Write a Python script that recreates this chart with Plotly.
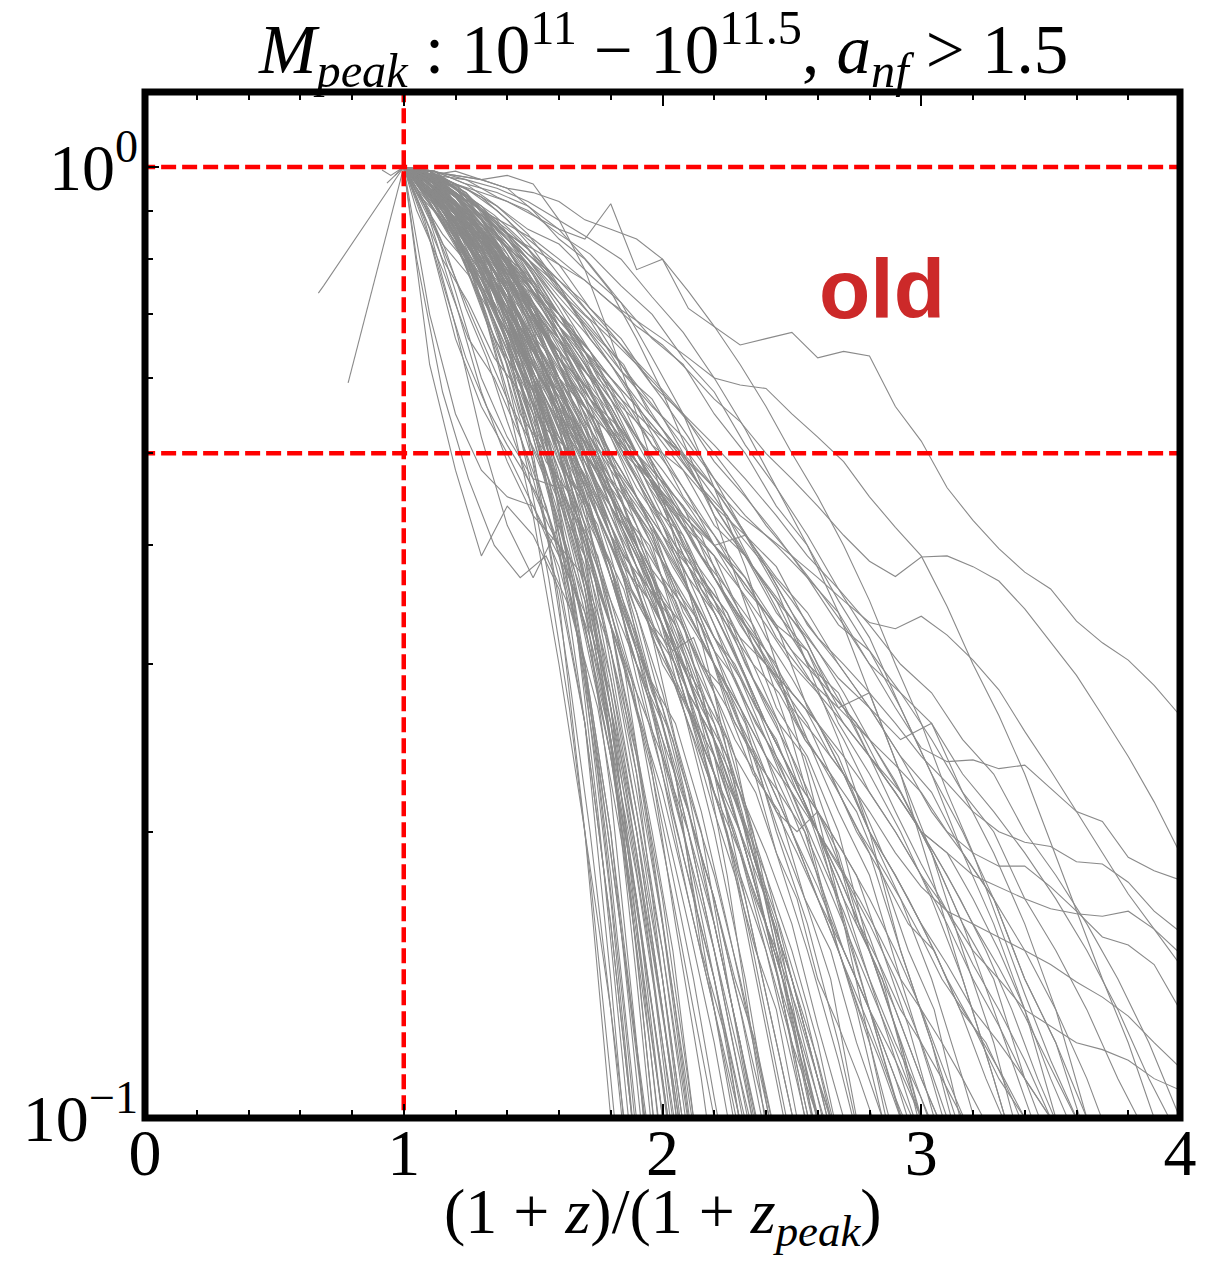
import math
import plotly.graph_objects as go

# ---------------- data ----------------
# snapshot grids of (1+z)/(1+z_peak) used by the different halo tracks
X_GRID = [1.0, 1.1, 1.2, 1.3, 1.4, 1.5, 1.6, 1.7, 1.8, 1.9, 2.0, 2.1, 2.2, 2.3, 2.4, 2.5,
          2.6, 2.7, 2.8, 2.9, 3.0, 3.1, 3.2, 3.3, 3.4, 3.5, 3.6, 3.7, 3.8, 3.9, 4.0]
X_GRID_B = [1.0, 1.05, 1.15, 1.25, 1.35, 1.45, 1.55, 1.65, 1.75, 1.85, 1.95, 2.05, 2.15,
            2.25, 2.35, 2.45, 2.55, 2.65, 2.75, 2.85, 2.95, 3.05, 3.15, 3.25, 3.35, 3.45,
            3.55, 3.65, 3.75, 3.85, 3.95, 4.05]
X_GRID_C = [1.0, 1.08, 1.16, 1.24, 1.32, 1.4, 1.48, 1.56, 1.64, 1.72, 1.8, 1.88, 1.96,
            2.04, 2.12, 2.2, 2.28, 2.36, 2.44, 2.52, 2.6, 2.68, 2.76, 2.84, 2.92, 3.0,
            3.08, 3.16, 3.24, 3.32, 3.4, 3.48, 3.56, 3.64, 3.72, 3.8, 3.88, 3.96, 4.04]
X_GRID_D = [1.0, 1.12, 1.24, 1.36, 1.48, 1.6, 1.72, 1.84, 1.96, 2.08, 2.2, 2.32, 2.44,
            2.56, 2.68, 2.8, 2.92, 3.04, 3.16, 3.28, 3.4, 3.52, 3.64, 3.76, 3.88, 4.0]

# M/M_peak of each halo track, sampled on X_GRID
TRACKS_EARLY = [
    [1, 0.62, 0.48, 0.39, 0.44, 0.41, 0.36, 0.26, 0.16, 0.09],
    [1, 0.7, 0.55, 0.48, 0.45, 0.44, 0.38, 0.3, 0.2, 0.12, 0.07],
    [1, 0.86, 0.68, 0.52, 0.42, 0.37, 0.42, 0.35, 0.26, 0.17, 0.1, 0.06],
    [1, 0.9, 0.74, 0.6, 0.52, 0.47, 0.46, 0.41, 0.33, 0.23, 0.14, 0.085],
    [1, 0.84, 0.66, 0.56, 0.5, 0.44, 0.39, 0.34, 0.28, 0.2, 0.13, 0.08],
    [1, 0.88, 0.72, 0.58, 0.49, 0.43, 0.4, 0.37, 0.31, 0.24, 0.17, 0.11, 0.07],
]
TRACKS_STEEP = [
    [1, 0.95, 0.88, 0.78, 0.65, 0.5, 0.35, 0.2, 0.1, 0.05],
    [1, 0.97, 0.9, 0.81, 0.69, 0.55, 0.4, 0.26, 0.14, 0.07],
    [1, 0.93, 0.85, 0.74, 0.63, 0.52, 0.41, 0.29, 0.17, 0.09],
    [1, 0.98, 0.93, 0.86, 0.75, 0.6, 0.44, 0.3, 0.18, 0.1, 0.055],
    [1, 0.96, 0.87, 0.79, 0.65, 0.58, 0.45, 0.35, 0.22, 0.12, 0.06],
    [1, 0.94, 0.84, 0.71, 0.6, 0.49, 0.39, 0.3, 0.2, 0.11, 0.06],
    [1, 0.99, 0.95, 0.88, 0.8, 0.68, 0.54, 0.39, 0.25, 0.14, 0.075],
    [1, 0.92, 0.83, 0.72, 0.58, 0.47, 0.37, 0.26, 0.16, 0.09],
    [1, 0.97, 0.92, 0.82, 0.74, 0.59, 0.51, 0.37, 0.27, 0.16, 0.09],
    [1, 0.95, 0.9, 0.8, 0.7, 0.57, 0.46, 0.36, 0.25, 0.15, 0.08],
]
TRACKS_FAST = [
    [1, 0.96, 0.86, 0.72, 0.57, 0.43, 0.3, 0.2, 0.13, 0.078],
    [1, 0.97, 0.9, 0.8, 0.68, 0.56, 0.44, 0.34, 0.25, 0.18, 0.12, 0.08],
    [1, 0.94, 0.87, 0.76, 0.66, 0.53, 0.43, 0.32, 0.24, 0.16, 0.1, 0.065],
    [1, 0.98, 0.92, 0.83, 0.7, 0.6, 0.47, 0.37, 0.26, 0.17, 0.11, 0.07],
    [1, 0.95, 0.88, 0.78, 0.69, 0.58, 0.5, 0.4, 0.29, 0.2, 0.13, 0.08],
    [1, 0.99, 0.94, 0.86, 0.76, 0.63, 0.5, 0.39, 0.28, 0.19, 0.12, 0.075],
    [1, 0.93, 0.83, 0.74, 0.62, 0.52, 0.42, 0.33, 0.24, 0.17, 0.11, 0.07],
    [1, 0.96, 0.91, 0.82, 0.73, 0.61, 0.51, 0.41, 0.31, 0.22, 0.15, 0.095, 0.06],
    [1, 0.97, 0.9, 0.79, 0.7, 0.6, 0.46, 0.38, 0.27, 0.19, 0.13, 0.085],
    [1, 0.95, 0.85, 0.75, 0.63, 0.55, 0.45, 0.36, 0.27, 0.2, 0.14, 0.09],
    [1, 0.98, 0.95, 0.88, 0.79, 0.66, 0.53, 0.42, 0.3, 0.21, 0.14, 0.09],
    [1, 0.94, 0.89, 0.8, 0.67, 0.57, 0.48, 0.37, 0.29, 0.21, 0.15, 0.1, 0.065],
    [1, 0.96, 0.88, 0.77, 0.65, 0.54, 0.46, 0.39, 0.31, 0.23, 0.16, 0.105, 0.07],
    [1, 0.99, 0.93, 0.85, 0.74, 0.64, 0.55, 0.44, 0.33, 0.24, 0.16, 0.1, 0.065],
]
TRACKS_CORE = [
    [1, 0.96, 0.88, 0.79, 0.69, 0.59, 0.5, 0.42, 0.34, 0.27, 0.22, 0.17, 0.13, 0.1, 0.076],
    [1, 0.94, 0.86, 0.75, 0.66, 0.56, 0.48, 0.41, 0.35, 0.28, 0.21, 0.16, 0.12, 0.085],
    [1, 0.98, 0.92, 0.84, 0.74, 0.62, 0.55, 0.43, 0.38, 0.29, 0.23, 0.18, 0.14, 0.105, 0.08],
    [1, 0.95, 0.9, 0.81, 0.71, 0.6, 0.49, 0.44, 0.37, 0.3, 0.25, 0.19, 0.14, 0.1, 0.07],
    [1, 0.97, 0.89, 0.8, 0.72, 0.62, 0.54, 0.45, 0.37, 0.31, 0.24, 0.19, 0.15, 0.11, 0.085],
    [1, 0.93, 0.84, 0.74, 0.64, 0.55, 0.47, 0.4, 0.33, 0.28, 0.24, 0.2, 0.15, 0.115, 0.085],
    [1, 0.98, 0.94, 0.86, 0.77, 0.67, 0.56, 0.46, 0.37, 0.3, 0.23, 0.17, 0.13, 0.095, 0.07],
    [1, 0.96, 0.9, 0.83, 0.7, 0.61, 0.53, 0.44, 0.38, 0.32, 0.26, 0.2, 0.16, 0.12, 0.09],
    [1, 0.95, 0.87, 0.78, 0.7, 0.6, 0.51, 0.43, 0.35, 0.3, 0.26, 0.21, 0.16, 0.12, 0.088, 0.065],
    [1, 0.97, 0.91, 0.82, 0.73, 0.65, 0.55, 0.47, 0.39, 0.31, 0.25, 0.21, 0.17, 0.13, 0.095, 0.07],
    [1, 0.99, 0.95, 0.9, 0.81, 0.7, 0.6, 0.5, 0.41, 0.33, 0.26, 0.2, 0.15, 0.11, 0.08],
    [1, 0.94, 0.88, 0.8, 0.7, 0.61, 0.52, 0.46, 0.4, 0.34, 0.27, 0.21, 0.17, 0.13, 0.1, 0.075],
    [1, 0.96, 0.89, 0.81, 0.68, 0.58, 0.51, 0.45, 0.38, 0.31, 0.27, 0.22, 0.18, 0.14, 0.105, 0.08],
    [1, 0.97, 0.92, 0.85, 0.76, 0.66, 0.57, 0.48, 0.41, 0.34, 0.28, 0.22, 0.16, 0.12, 0.085],
]
TRACKS_MID = [
    [1, 0.96, 0.89, 0.82, 0.73, 0.65, 0.57, 0.5, 0.43, 0.37, 0.31, 0.26, 0.22, 0.18, 0.15, 0.12, 0.1, 0.081],
    [1, 0.95, 0.87, 0.78, 0.69, 0.6, 0.52, 0.47, 0.41, 0.36, 0.3, 0.27, 0.23, 0.19, 0.15, 0.115, 0.088],
    [1, 0.98, 0.93, 0.86, 0.77, 0.68, 0.6, 0.53, 0.45, 0.38, 0.33, 0.27, 0.22, 0.19, 0.16, 0.13, 0.105, 0.085],
    [1, 0.97, 0.9, 0.84, 0.75, 0.63, 0.55, 0.49, 0.44, 0.39, 0.33, 0.29, 0.24, 0.2, 0.16, 0.13, 0.1, 0.078],
    [1, 0.94, 0.86, 0.79, 0.7, 0.62, 0.55, 0.46, 0.4, 0.35, 0.31, 0.27, 0.23, 0.2, 0.17, 0.14, 0.11, 0.09, 0.07],
    [1, 0.99, 0.95, 0.88, 0.8, 0.71, 0.62, 0.55, 0.47, 0.41, 0.35, 0.29, 0.24, 0.2, 0.16, 0.12, 0.09],
    [1, 0.96, 0.91, 0.83, 0.76, 0.67, 0.58, 0.49, 0.42, 0.37, 0.33, 0.28, 0.25, 0.21, 0.17, 0.14, 0.115, 0.09],
    [1, 0.97, 0.92, 0.85, 0.78, 0.7, 0.63, 0.56, 0.48, 0.4, 0.34, 0.28, 0.23, 0.19, 0.155, 0.125, 0.1, 0.08],
    [1, 0.95, 0.9, 0.8, 0.72, 0.64, 0.58, 0.52, 0.45, 0.38, 0.32, 0.28, 0.25, 0.22, 0.18, 0.14, 0.11, 0.085],
    [1, 0.98, 0.94, 0.87, 0.79, 0.69, 0.59, 0.51, 0.44, 0.39, 0.34, 0.29, 0.26, 0.22, 0.19, 0.16, 0.125, 0.1, 0.075],
    [1, 0.96, 0.88, 0.81, 0.74, 0.66, 0.6, 0.53, 0.46, 0.4, 0.35, 0.31, 0.26, 0.21, 0.17, 0.14, 0.11, 0.085],
    [1, 0.97, 0.93, 0.87, 0.8, 0.72, 0.62, 0.52, 0.44, 0.38, 0.33, 0.27, 0.24, 0.21, 0.18, 0.15, 0.12, 0.09],
    [1, 0.93, 0.85, 0.76, 0.68, 0.6, 0.54, 0.49, 0.43, 0.38, 0.34, 0.3, 0.25, 0.21, 0.17, 0.135, 0.105, 0.08],
    [1, 0.99, 0.96, 0.9, 0.82, 0.74, 0.66, 0.57, 0.49, 0.42, 0.35, 0.3, 0.25, 0.2, 0.16, 0.13, 0.1, 0.078],
]
TRACKS_BROAD = [
    [1, 0.97, 0.91, 0.85, 0.79, 0.72, 0.65, 0.59, 0.53, 0.47, 0.42, 0.37, 0.32, 0.28, 0.25, 0.215, 0.186, 0.16, 0.137, 0.118, 0.1, 0.085],
    [1, 0.96, 0.9, 0.82, 0.74, 0.66, 0.59, 0.53, 0.48, 0.44, 0.4, 0.36, 0.31, 0.27, 0.24, 0.21, 0.18, 0.15, 0.13, 0.11, 0.09],
    [1, 0.98, 0.94, 0.88, 0.82, 0.75, 0.67, 0.6, 0.52, 0.45, 0.39, 0.34, 0.3, 0.27, 0.24, 0.22, 0.19, 0.165, 0.14, 0.12, 0.105, 0.09],
    [1, 0.95, 0.88, 0.8, 0.71, 0.63, 0.56, 0.5, 0.45, 0.41, 0.37, 0.34, 0.3, 0.27, 0.23, 0.2, 0.17, 0.145, 0.125, 0.105, 0.09],
    [1, 0.99, 0.95, 0.9, 0.83, 0.76, 0.7, 0.63, 0.55, 0.48, 0.42, 0.36, 0.31, 0.26, 0.23, 0.2, 0.175, 0.15, 0.13, 0.11, 0.095],
    [1, 0.97, 0.92, 0.86, 0.8, 0.73, 0.67, 0.61, 0.56, 0.5, 0.44, 0.38, 0.33, 0.29, 0.25, 0.22, 0.2, 0.18, 0.155, 0.13, 0.11, 0.095, 0.08],
    [1, 0.96, 0.89, 0.81, 0.75, 0.68, 0.6, 0.54, 0.49, 0.45, 0.41, 0.37, 0.34, 0.3, 0.26, 0.23, 0.2, 0.17, 0.15, 0.13, 0.11, 0.095, 0.08],
    [1, 0.98, 0.93, 0.87, 0.81, 0.74, 0.68, 0.62, 0.55, 0.49, 0.43, 0.39, 0.35, 0.31, 0.27, 0.24, 0.21, 0.18, 0.16, 0.14, 0.12, 0.1, 0.085],
    [1, 0.95, 0.9, 0.84, 0.78, 0.71, 0.63, 0.57, 0.52, 0.46, 0.42, 0.38, 0.33, 0.28, 0.24, 0.2, 0.17, 0.15, 0.13, 0.115, 0.1, 0.085],
    [1, 0.97, 0.93, 0.89, 0.84, 0.78, 0.71, 0.64, 0.57, 0.5, 0.44, 0.38, 0.34, 0.3, 0.26, 0.23, 0.2, 0.175, 0.15, 0.125, 0.105, 0.088],
    [1, 0.96, 0.91, 0.86, 0.78, 0.7, 0.62, 0.57, 0.53, 0.49, 0.45, 0.4, 0.35, 0.3, 0.26, 0.23, 0.21, 0.19, 0.17, 0.15, 0.13, 0.11, 0.095, 0.08],
    [1, 0.98, 0.95, 0.91, 0.85, 0.77, 0.68, 0.6, 0.53, 0.47, 0.41, 0.36, 0.32, 0.29, 0.26, 0.23, 0.2, 0.17, 0.14, 0.115, 0.095, 0.078],
]
TRACKS_SLOW = [
    [1, 0.975, 0.94, 0.89, 0.845, 0.79, 0.74, 0.69, 0.64, 0.59, 0.545, 0.5, 0.46, 0.42, 0.38, 0.34, 0.31, 0.28, 0.25, 0.226, 0.2, 0.18, 0.16, 0.144, 0.128, 0.113, 0.1, 0.088],
    [1, 0.98, 0.95, 0.9, 0.85, 0.8, 0.75, 0.7, 0.66, 0.62, 0.58, 0.54, 0.5, 0.46, 0.42, 0.39, 0.36, 0.33, 0.3, 0.27, 0.245, 0.237, 0.238, 0.233, 0.235, 0.222, 0.21, 0.205, 0.188, 0.182, 0.178],
    [1, 0.98, 0.95, 0.9, 0.84, 0.77, 0.7, 0.64, 0.58, 0.52, 0.47, 0.43, 0.4, 0.37, 0.34, 0.31, 0.28, 0.25, 0.22, 0.2, 0.18, 0.16, 0.14, 0.125, 0.11, 0.1, 0.09],
    [1, 0.96, 0.91, 0.85, 0.8, 0.74, 0.69, 0.64, 0.6, 0.56, 0.52, 0.48, 0.44, 0.4, 0.36, 0.32, 0.29, 0.26, 0.24, 0.22, 0.2, 0.19, 0.17, 0.15, 0.13, 0.11, 0.095, 0.08],
    [1, 0.97, 0.92, 0.86, 0.79, 0.71, 0.63, 0.56, 0.5, 0.45, 0.41, 0.38, 0.35, 0.32, 0.3, 0.28, 0.26, 0.23, 0.2, 0.18, 0.16, 0.145, 0.13, 0.12, 0.11, 0.1, 0.09],
    [1, 0.99, 0.96, 0.93, 0.88, 0.82, 0.75, 0.68, 0.62, 0.56, 0.5, 0.45, 0.4, 0.36, 0.32, 0.29, 0.26, 0.23, 0.2, 0.18, 0.16, 0.14, 0.125, 0.11, 0.1, 0.088],
    [1, 0.97, 0.94, 0.9, 0.86, 0.81, 0.76, 0.72, 0.67, 0.62, 0.57, 0.52, 0.47, 0.42, 0.38, 0.34, 0.3, 0.27, 0.24, 0.21, 0.185, 0.165, 0.145, 0.13, 0.115, 0.1, 0.088],
    [1, 0.99, 0.98, 0.97, 0.98, 0.96, 0.88, 0.78, 0.66, 0.55, 0.45, 0.36, 0.28, 0.21, 0.16, 0.12, 0.09],
    [1, 0.98, 0.99, 0.97, 0.95, 0.9, 0.84, 0.8, 0.74, 0.66, 0.58, 0.5, 0.43, 0.36, 0.3, 0.25, 0.2, 0.16, 0.13, 0.105, 0.085],
    [1, 0.99, 0.98, 0.97, 0.95, 0.94, 0.92, 0.88, 0.86, 0.84, 0.8, 0.74, 0.68, 0.62, 0.56, 0.5, 0.45, 0.4, 0.35, 0.3, 0.26, 0.22, 0.19, 0.16, 0.135, 0.115, 0.1, 0.085],
]
TRACKS_OLDEST = [
    [1, 0.98, 0.96, 0.94, 0.92, 0.89, 0.86, 0.84, 0.915, 0.78, 0.8, 0.71, 0.68, 0.65, 0.66, 0.67, 0.63, 0.64, 0.633, 0.56, 0.515, 0.46, 0.425, 0.397, 0.375, 0.36, 0.333, 0.316, 0.303, 0.285, 0.265],
    [1, 0.98, 0.94, 0.9, 0.87, 0.84, 0.8, 0.76, 0.72, 0.68, 0.65, 0.61, 0.57, 0.54, 0.5, 0.47, 0.44, 0.41, 0.385, 0.371, 0.389, 0.39, 0.38, 0.367, 0.343, 0.316, 0.292, 0.265, 0.24, 0.215, 0.19],
    [1, 0.97, 0.93, 0.89, 0.85, 0.82, 0.79, 0.76, 0.72, 0.69, 0.66, 0.63, 0.6, 0.59, 0.585, 0.55, 0.52, 0.49, 0.45, 0.418, 0.39, 0.345, 0.3, 0.265, 0.23, 0.195, 0.165, 0.14, 0.12, 0.1, 0.088],
    [1, 0.96, 0.91, 0.86, 0.8, 0.75, 0.7, 0.65, 0.6, 0.56, 0.52, 0.49, 0.46, 0.43, 0.41, 0.39, 0.37, 0.35, 0.332, 0.327, 0.337, 0.322, 0.303, 0.282, 0.255, 0.232, 0.21, 0.19, 0.172, 0.158, 0.145],
    [1, 0.97, 0.93, 0.88, 0.83, 0.78, 0.72, 0.67, 0.62, 0.57, 0.53, 0.49, 0.45, 0.41, 0.38, 0.35, 0.32, 0.3, 0.28, 0.26, 0.24, 0.225, 0.21, 0.2, 0.195, 0.193, 0.186, 0.185, 0.177, 0.165, 0.157],
    [1, 0.96, 0.9, 0.84, 0.77, 0.7, 0.64, 0.58, 0.53, 0.49, 0.45, 0.42, 0.39, 0.36, 0.33, 0.3, 0.28, 0.26, 0.24, 0.22, 0.2, 0.19, 0.18, 0.175, 0.17, 0.166, 0.164, 0.163, 0.165, 0.158, 0.149],
    [1, 0.98, 0.94, 0.89, 0.82, 0.75, 0.68, 0.62, 0.56, 0.5, 0.45, 0.41, 0.37, 0.33, 0.3, 0.27, 0.25, 0.23, 0.21, 0.19, 0.175, 0.165, 0.16, 0.155, 0.15, 0.145, 0.139, 0.134, 0.128, 0.12, 0.113],
    [1, 0.97, 0.91, 0.85, 0.78, 0.72, 0.66, 0.6, 0.55, 0.5, 0.46, 0.42, 0.38, 0.34, 0.31, 0.28, 0.26, 0.24, 0.22, 0.2, 0.18, 0.165, 0.15, 0.14, 0.13, 0.125, 0.12, 0.118, 0.115, 0.11, 0.107],
    [1, 0.96, 0.92, 0.86, 0.8, 0.74, 0.68, 0.62, 0.57, 0.52, 0.48, 0.44, 0.4, 0.37, 0.34, 0.31, 0.29, 0.27, 0.25, 0.235, 0.22, 0.2, 0.19, 0.184, 0.184, 0.175, 0.165, 0.155, 0.152, 0.145, 0.13],
]
# tracks sampled on X_GRID_B
TRACKS_B = [
    [1, 0.97, 0.9, 0.84, 0.71, 0.63, 0.5, 0.43, 0.3, 0.2, 0.11, 0.06],
    [1, 0.95, 0.83, 0.77, 0.69, 0.55, 0.5, 0.41, 0.33, 0.22, 0.15, 0.09],
    [1, 0.99, 0.93, 0.82, 0.76, 0.64, 0.56, 0.44, 0.39, 0.3, 0.24, 0.16, 0.11, 0.07],
    [1, 0.96, 0.87, 0.8, 0.7, 0.61, 0.56, 0.47, 0.42, 0.34, 0.29, 0.23, 0.15, 0.12, 0.08],
    [1, 0.98, 0.94, 0.85, 0.8, 0.69, 0.6, 0.54, 0.43, 0.37, 0.33, 0.25, 0.2, 0.14, 0.1, 0.07],
    [1, 0.94, 0.85, 0.79, 0.66, 0.6, 0.53, 0.5, 0.41, 0.36, 0.29, 0.26, 0.21, 0.16, 0.12, 0.09],
    [1, 0.97, 0.92, 0.88, 0.79, 0.72, 0.62, 0.52, 0.48, 0.4, 0.33, 0.3, 0.24, 0.2, 0.15, 0.11, 0.08],
    [1, 0.99, 0.96, 0.9, 0.84, 0.74, 0.68, 0.57, 0.5, 0.42, 0.37, 0.31, 0.28, 0.22, 0.18, 0.14, 0.1, 0.075],
    [1, 0.96, 0.9, 0.83, 0.76, 0.7, 0.6, 0.55, 0.46, 0.42, 0.38, 0.31, 0.27, 0.24, 0.19, 0.16, 0.13, 0.1, 0.075],
    [1, 0.98, 0.93, 0.86, 0.81, 0.72, 0.66, 0.58, 0.54, 0.45, 0.41, 0.36, 0.33, 0.27, 0.24, 0.2, 0.17, 0.14, 0.1, 0.08],
    [1, 0.95, 0.88, 0.8, 0.74, 0.67, 0.61, 0.53, 0.5, 0.44, 0.38, 0.35, 0.3, 0.27, 0.23, 0.21, 0.17, 0.15, 0.12, 0.1, 0.08],
    [1, 0.99, 0.95, 0.88, 0.83, 0.76, 0.71, 0.63, 0.59, 0.52, 0.46, 0.42, 0.37, 0.34, 0.29, 0.26, 0.22, 0.2, 0.16, 0.14, 0.11, 0.085],
    [1, 0.97, 0.91, 0.84, 0.8, 0.73, 0.66, 0.62, 0.55, 0.5, 0.47, 0.42, 0.36, 0.33, 0.3, 0.26, 0.24, 0.2, 0.18, 0.15, 0.125, 0.1, 0.08],
    [1, 0.98, 0.96, 0.92, 0.85, 0.8, 0.72, 0.68, 0.6, 0.56, 0.49, 0.44, 0.41, 0.35, 0.32, 0.29, 0.25, 0.23, 0.2, 0.18, 0.15, 0.13, 0.1, 0.085],
    [1, 0.96, 0.91, 0.86, 0.79, 0.75, 0.68, 0.61, 0.57, 0.51, 0.47, 0.44, 0.39, 0.36, 0.33, 0.29, 0.27, 0.24, 0.22, 0.19, 0.17, 0.15, 0.13, 0.11, 0.095, 0.08],
    [1, 0.99, 0.97, 0.93, 0.89, 0.84, 0.78, 0.71, 0.66, 0.62, 0.55, 0.51, 0.46, 0.43, 0.38, 0.35, 0.32, 0.28, 0.26, 0.23, 0.21, 0.19, 0.17, 0.15, 0.13, 0.11, 0.095, 0.08],
    [1, 0.9, 0.78, 0.66, 0.6, 0.52, 0.44, 0.35, 0.23, 0.13, 0.07],
    [1, 0.93, 0.8, 0.72, 0.63, 0.58, 0.49, 0.45, 0.36, 0.3, 0.2, 0.13, 0.08],
    [1, 0.98, 0.9, 0.81, 0.74, 0.65, 0.57, 0.49, 0.44, 0.38, 0.35, 0.31, 0.25, 0.18, 0.12, 0.08],
    [1, 0.94, 0.88, 0.78, 0.72, 0.63, 0.57, 0.5, 0.45, 0.39, 0.36, 0.33, 0.28, 0.25, 0.2, 0.15, 0.11, 0.08],
    [1, 0.97, 0.91, 0.84, 0.76, 0.69, 0.64, 0.55, 0.49, 0.43, 0.4, 0.34, 0.3, 0.28, 0.24, 0.22, 0.2, 0.16, 0.13, 0.1, 0.08],
    [1, 0.98, 0.94, 0.89, 0.82, 0.74, 0.68, 0.63, 0.56, 0.5, 0.45, 0.4, 0.37, 0.34, 0.3, 0.28, 0.25, 0.23, 0.21, 0.18, 0.16, 0.15, 0.13, 0.12, 0.105, 0.09],
    [1, 0.98, 0.95, 0.87, 0.78, 0.66, 0.52, 0.36, 0.21, 0.11, 0.06],
    [1, 0.96, 0.89, 0.8, 0.69, 0.6, 0.47, 0.36, 0.24, 0.15, 0.09],
    [1, 0.8, 0.58, 0.47, 0.4, 0.37, 0.39, 0.34, 0.27, 0.19, 0.12, 0.07],
]
# tracks sampled on X_GRID_C
TRACKS_C = [
    [1, 0.96, 0.9, 0.81, 0.7, 0.6, 0.48, 0.37, 0.27, 0.18, 0.11, 0.065],
    [1, 0.98, 0.91, 0.85, 0.74, 0.66, 0.55, 0.47, 0.36, 0.27, 0.19, 0.13, 0.09],
    [1, 0.94, 0.86, 0.79, 0.69, 0.62, 0.52, 0.46, 0.39, 0.31, 0.25, 0.18, 0.13, 0.09],
    [1, 0.99, 0.94, 0.86, 0.8, 0.7, 0.63, 0.53, 0.47, 0.39, 0.33, 0.26, 0.2, 0.15, 0.1, 0.07],
    [1, 0.95, 0.88, 0.82, 0.73, 0.67, 0.58, 0.52, 0.46, 0.41, 0.34, 0.29, 0.22, 0.17, 0.13, 0.1, 0.075],
    [1, 0.97, 0.93, 0.85, 0.78, 0.69, 0.62, 0.54, 0.5, 0.43, 0.38, 0.31, 0.27, 0.21, 0.17, 0.14, 0.11, 0.085],
    [1, 0.96, 0.89, 0.8, 0.75, 0.66, 0.6, 0.53, 0.47, 0.44, 0.37, 0.33, 0.28, 0.25, 0.2, 0.17, 0.14, 0.12, 0.095, 0.075],
    [1, 0.98, 0.95, 0.88, 0.82, 0.74, 0.67, 0.6, 0.52, 0.47, 0.41, 0.38, 0.32, 0.29, 0.25, 0.21, 0.18, 0.15, 0.13, 0.1, 0.08],
    [1, 0.95, 0.9, 0.84, 0.76, 0.69, 0.63, 0.58, 0.51, 0.46, 0.42, 0.36, 0.33, 0.29, 0.26, 0.23, 0.2, 0.17, 0.15, 0.13, 0.11, 0.095, 0.08],
    [1, 0.97, 0.92, 0.87, 0.8, 0.74, 0.67, 0.62, 0.55, 0.5, 0.45, 0.41, 0.37, 0.34, 0.3, 0.27, 0.24, 0.22, 0.19, 0.17, 0.14, 0.125, 0.11, 0.095, 0.08],
    [1, 0.99, 0.96, 0.91, 0.85, 0.79, 0.71, 0.66, 0.6, 0.53, 0.49, 0.44, 0.41, 0.36, 0.33, 0.3, 0.26, 0.24, 0.21, 0.19, 0.17, 0.15, 0.13, 0.115, 0.1, 0.09, 0.078],
    [1, 0.97, 0.93, 0.88, 0.83, 0.76, 0.7, 0.64, 0.59, 0.55, 0.5, 0.46, 0.42, 0.38, 0.35, 0.32, 0.3, 0.27, 0.25, 0.22, 0.2, 0.18, 0.16, 0.145, 0.13, 0.12, 0.11, 0.1, 0.09],
    [1, 0.96, 0.9, 0.85, 0.78, 0.73, 0.67, 0.6, 0.56, 0.51, 0.47, 0.44, 0.4, 0.37, 0.34, 0.31, 0.29, 0.26, 0.24, 0.22, 0.2, 0.185, 0.17, 0.155, 0.14, 0.13, 0.12, 0.11, 0.1, 0.092, 0.085],
    [1, 0.98, 0.95, 0.91, 0.86, 0.8, 0.75, 0.69, 0.65, 0.6, 0.56, 0.51, 0.47, 0.44, 0.4, 0.37, 0.34, 0.31, 0.29, 0.26, 0.24, 0.22, 0.2, 0.185, 0.17, 0.155, 0.14, 0.13, 0.12, 0.11, 0.1, 0.095, 0.085],
    [1, 0.88, 0.74, 0.63, 0.56, 0.51, 0.47, 0.43, 0.37, 0.32, 0.26, 0.2, 0.15, 0.11, 0.08],
    [1, 0.92, 0.82, 0.71, 0.63, 0.54, 0.47, 0.42, 0.38, 0.31, 0.24, 0.17, 0.12, 0.085],
    [1, 0.99, 0.97, 0.93, 0.87, 0.8, 0.72, 0.63, 0.55, 0.48, 0.42, 0.37, 0.33, 0.31, 0.32, 0.28, 0.24, 0.19, 0.15, 0.12, 0.095, 0.075],
    [1, 0.95, 0.9, 0.83, 0.77, 0.71, 0.64, 0.58, 0.53, 0.49, 0.46, 0.43, 0.39, 0.35, 0.31, 0.28, 0.25, 0.23, 0.21, 0.2, 0.21, 0.19, 0.16, 0.14, 0.12, 0.1, 0.085],
    [1, 0.97, 0.93, 0.85, 0.76, 0.65, 0.52, 0.4, 0.29, 0.2, 0.13, 0.08],
    [1, 0.91, 0.81, 0.72, 0.64, 0.57, 0.52, 0.47, 0.42, 0.38, 0.33, 0.28, 0.23, 0.18, 0.14, 0.105, 0.08],
]
# tracks sampled on X_GRID_D
TRACKS_D = [
    [1, 0.93, 0.86, 0.74, 0.66, 0.57, 0.5, 0.45, 0.36, 0.33, 0.25, 0.2, 0.16, 0.11, 0.08],
    [1, 0.97, 0.88, 0.81, 0.7, 0.64, 0.52, 0.47, 0.42, 0.34, 0.3, 0.25, 0.19, 0.15, 0.115, 0.085],
    [1, 0.95, 0.9, 0.79, 0.74, 0.63, 0.58, 0.5, 0.44, 0.41, 0.34, 0.29, 0.24, 0.2, 0.15, 0.12, 0.09],
    [1, 0.98, 0.91, 0.85, 0.76, 0.7, 0.61, 0.55, 0.48, 0.44, 0.37, 0.33, 0.27, 0.24, 0.2, 0.15, 0.12, 0.09],
    [1, 0.94, 0.87, 0.8, 0.71, 0.66, 0.57, 0.53, 0.47, 0.42, 0.39, 0.33, 0.3, 0.25, 0.21, 0.18, 0.14, 0.11, 0.085],
    [1, 0.96, 0.92, 0.84, 0.79, 0.7, 0.64, 0.56, 0.52, 0.45, 0.41, 0.36, 0.33, 0.27, 0.24, 0.2, 0.17, 0.14, 0.11, 0.085],
    [1, 0.99, 0.93, 0.88, 0.8, 0.75, 0.66, 0.6, 0.53, 0.5, 0.43, 0.39, 0.34, 0.31, 0.26, 0.23, 0.2, 0.17, 0.14, 0.11, 0.085],
    [1, 0.95, 0.9, 0.82, 0.77, 0.69, 0.64, 0.58, 0.51, 0.48, 0.42, 0.39, 0.35, 0.3, 0.28, 0.24, 0.22, 0.19, 0.16, 0.14, 0.11, 0.09],
    [1, 0.97, 0.94, 0.87, 0.82, 0.74, 0.69, 0.61, 0.57, 0.5, 0.46, 0.41, 0.38, 0.33, 0.3, 0.27, 0.24, 0.22, 0.19, 0.17, 0.14, 0.12, 0.095],
    [1, 0.98, 0.95, 0.9, 0.84, 0.79, 0.71, 0.66, 0.59, 0.55, 0.49, 0.45, 0.41, 0.37, 0.34, 0.3, 0.28, 0.25, 0.22, 0.2, 0.17, 0.15, 0.13, 0.11, 0.095],
    [1, 0.92, 0.83, 0.76, 0.65, 0.59, 0.5, 0.43, 0.37, 0.29, 0.22, 0.17, 0.12, 0.085],
    [1, 0.96, 0.9, 0.8, 0.73, 0.62, 0.55, 0.46, 0.41, 0.33, 0.27, 0.21, 0.15, 0.105, 0.075],
    [1, 0.99, 0.94, 0.85, 0.77, 0.66, 0.56, 0.47, 0.4, 0.31, 0.23, 0.16, 0.11, 0.075],
    [1, 0.91, 0.82, 0.73, 0.66, 0.6, 0.55, 0.51, 0.46, 0.42, 0.37, 0.33, 0.29, 0.26, 0.22, 0.19, 0.15, 0.12, 0.095],
    [1, 0.93, 0.86, 0.78, 0.71, 0.63, 0.57, 0.52, 0.48, 0.44, 0.4, 0.37, 0.33, 0.31, 0.27, 0.25, 0.22, 0.19, 0.16, 0.13, 0.105, 0.085],
    [1, 0.97, 0.92, 0.86, 0.8, 0.73, 0.67, 0.61, 0.56, 0.52, 0.47, 0.43, 0.4, 0.37, 0.33, 0.31, 0.28, 0.26, 0.23, 0.21, 0.19, 0.17, 0.15, 0.13, 0.11, 0.095],
    [1, 0.95, 0.87, 0.83, 0.73, 0.66, 0.6, 0.51, 0.47, 0.4, 0.36, 0.3, 0.26, 0.21, 0.17, 0.13, 0.1, 0.075],
    [1, 0.98, 0.94, 0.86, 0.8, 0.72, 0.64, 0.55, 0.49, 0.43, 0.4, 0.41, 0.36, 0.3, 0.25, 0.2, 0.15, 0.12, 0.09],
    [1, 0.96, 0.89, 0.83, 0.75, 0.68, 0.62, 0.57, 0.51, 0.46, 0.41, 0.37, 0.32, 0.29, 0.27, 0.28, 0.23, 0.19, 0.15, 0.12, 0.09],
    [1, 0.99, 0.96, 0.91, 0.85, 0.77, 0.7, 0.62, 0.55, 0.49, 0.44, 0.39, 0.35, 0.32, 0.29, 0.27, 0.25, 0.26, 0.22, 0.19, 0.16, 0.13, 0.1, 0.085],
    [1, 0.94, 0.84, 0.77, 0.63, 0.56, 0.45, 0.38, 0.27, 0.2, 0.13, 0.085],
    [1, 0.97, 0.89, 0.82, 0.72, 0.6, 0.53, 0.42, 0.36, 0.27, 0.2, 0.14, 0.09],
    [1, 0.95, 0.88, 0.81, 0.75, 0.68, 0.63, 0.57, 0.53, 0.48, 0.44, 0.41, 0.37, 0.34, 0.3, 0.27, 0.24, 0.21, 0.19, 0.17, 0.15, 0.13, 0.11, 0.09],
    [1, 0.98, 0.93, 0.87, 0.81, 0.76, 0.7, 0.65, 0.6, 0.55, 0.51, 0.47, 0.43, 0.39, 0.36, 0.33, 0.3, 0.28, 0.25, 0.23, 0.2, 0.18, 0.16, 0.14, 0.12, 0.1],
    [1, 0.9, 0.8, 0.7, 0.62, 0.55, 0.49, 0.43, 0.36, 0.3, 0.24, 0.17, 0.12, 0.085],
    [1, 0.93, 0.85, 0.77, 0.69, 0.61, 0.54, 0.48, 0.42, 0.37, 0.3, 0.26, 0.2, 0.16, 0.12, 0.085],
    [1, 0.99, 0.97, 0.95, 0.92, 0.88, 0.84, 0.8, 0.73, 0.67, 0.6, 0.53, 0.46, 0.4, 0.34, 0.28, 0.23, 0.18, 0.14, 0.11, 0.085],
    [1, 0.98, 0.97, 0.93, 0.9, 0.85, 0.81, 0.75, 0.7, 0.63, 0.58, 0.51, 0.46, 0.41, 0.36, 0.32, 0.27, 0.23, 0.19, 0.16, 0.13, 0.1, 0.08],
    [1, 0.99, 0.96, 0.94, 0.91, 0.86, 0.79, 0.72, 0.63, 0.55, 0.46, 0.38, 0.3, 0.23, 0.17, 0.12, 0.085],
    [1, 0.97, 0.95, 0.91, 0.86, 0.83, 0.77, 0.72, 0.66, 0.62, 0.55, 0.5, 0.44, 0.4, 0.35, 0.31, 0.27, 0.23, 0.2, 0.17, 0.14, 0.12, 0.1, 0.085],
]
# tracks that also have snapshots after the peak (x < 1)
LATE_X = [[0.67, 0.69, 1.0], [0.785, 1.0], [0.916, 0.95, 1.0], [0.935, 1.0], [0.966, 1.0]]
LATE_Y = [[0.737, 0.75, 1.0], [0.593, 1.0], [0.993, 0.98, 1.0], [0.962, 1.0], [0.98, 1.0]]

X_TICKS = [0, 1, 2, 3, 4]
Y_TICKS = [0.1, 1]
Y_TICK_TEXT = ["10<sup>\u22121</sup>", "10<sup>0</sup>"]
Y_MINOR = [0.2, 0.3, 0.4, 0.5, 0.6, 0.7, 0.8, 0.9]
X_RANGE = [0, 4]
Y_RANGE_LOG = [-1, 0.0789]

REF_X = 1.0            # vertical dashed line
REF_Y = [1.0, 0.5]     # horizontal dashed lines
LABEL_TEXT = "old"
LABEL_X, LABEL_Y = 2.85, 0.745

GRAY = "#8a8a8a"
RED = "#ff0000"
SERIF = "Liberation Serif"

fig = go.Figure()


def add_track(xs, ys):
    fig.add_trace(go.Scatter(x=xs, y=ys, mode="lines",
                             line=dict(color=GRAY, width=1.1),
                             hoverinfo="skip", showlegend=False))


for grp in [TRACKS_EARLY, TRACKS_STEEP, TRACKS_FAST, TRACKS_CORE,
            TRACKS_MID, TRACKS_BROAD, TRACKS_SLOW, TRACKS_OLDEST]:
    for tr in grp:
        add_track(X_GRID[:len(tr)], tr)
for grid, grp in [(X_GRID_B, TRACKS_B), (X_GRID_C, TRACKS_C), (X_GRID_D, TRACKS_D)]:
    for tr in grp:
        add_track(grid[:len(tr)], tr)
for xs, ys in zip(LATE_X, LATE_Y):
    add_track(xs, ys)

# red dashed reference lines (extend beyond range; clipped by plot area)
dash = "15px,6px"
fig.add_trace(go.Scatter(x=[REF_X, REF_X], y=[0.05, 2.0], mode="lines",
                         xaxis="x2", line=dict(color=RED, width=4.5, dash=dash),
                         hoverinfo="skip", showlegend=False))
for yv in REF_Y:
    fig.add_trace(go.Scatter(x=[X_RANGE[0] - 0.1, X_RANGE[1] + 0.1], y=[yv, yv], mode="lines",
                             line=dict(color=RED, width=4.5, dash=dash),
                             hoverinfo="skip", showlegend=False))

tick_font = dict(family=SERIF, size=66, color="black")
minor_x = dict(tick0=0, dtick=0.2, ticks="inside", ticklen=8, tickwidth=1.5,
               tickcolor="black", showgrid=False)
fig.update_layout(
    width=1220, height=1261,
    margin=dict(l=145, r=40, t=92, b=143),
    plot_bgcolor="white", paper_bgcolor="white",
    showlegend=False,
    xaxis=dict(range=X_RANGE, tickvals=X_TICKS, ticks="inside", ticklen=14, tickwidth=2,
               tickcolor="black", showgrid=False, zeroline=False, showline=False,
               tickfont=tick_font, minor=minor_x, ticklabelstandoff=-10),
    xaxis2=dict(range=X_RANGE, overlaying="x", side="top", tickvals=X_TICKS, ticks="inside",
                ticklen=14, tickwidth=2, tickcolor="black", showticklabels=False,
                showgrid=False, zeroline=False, showline=False, minor=minor_x),
    yaxis=dict(type="log", range=Y_RANGE_LOG, tickvals=Y_TICKS, ticktext=Y_TICK_TEXT,
               ticks="inside", ticklen=14, tickwidth=2, tickcolor="black",
               showgrid=False, zeroline=False, showline=False, tickfont=tick_font,
               ticklabelstandoff=6,
               minor=dict(tickvals=Y_MINOR, ticks="inside", ticklen=8, tickwidth=1.5,
                          tickcolor="black", showgrid=False)),
    shapes=[dict(type="rect", xref="paper", yref="paper", x0=0, x1=1, y0=0, y1=1,
                 line=dict(color="black", width=7), layer="above")],
    annotations=[
        dict(text="<i>M</i><sub><i>peak</i></sub> : 10<sup>11</sup> \u2212 10<sup>11.5</sup>, "
                  "<i>a</i><sub><i>nf</i></sub> > 1.5",
             xref="paper", yref="paper", x=0.5, y=1.042, xanchor="center", yanchor="middle",
             showarrow=False, font=dict(family=SERIF, size=69, color="black")),
        dict(text="(1 + <i>z</i>)/(1 + <i>z</i><sub><i>peak</i></sub>)",
             xref="paper", yref="paper", x=0.5, y=-0.136, xanchor="center", yanchor="bottom",
             showarrow=False, font=dict(family=SERIF, size=64, color="black")),
        dict(text="<b>" + LABEL_TEXT + "</b>", x=LABEL_X, y=math.log10(LABEL_Y),
             xref="x", yref="y", showarrow=False, xanchor="center", yanchor="middle",
             font=dict(family="Liberation Sans", size=84, color="#cc2929")),
    ],
)

fig.write_html("out.html")
